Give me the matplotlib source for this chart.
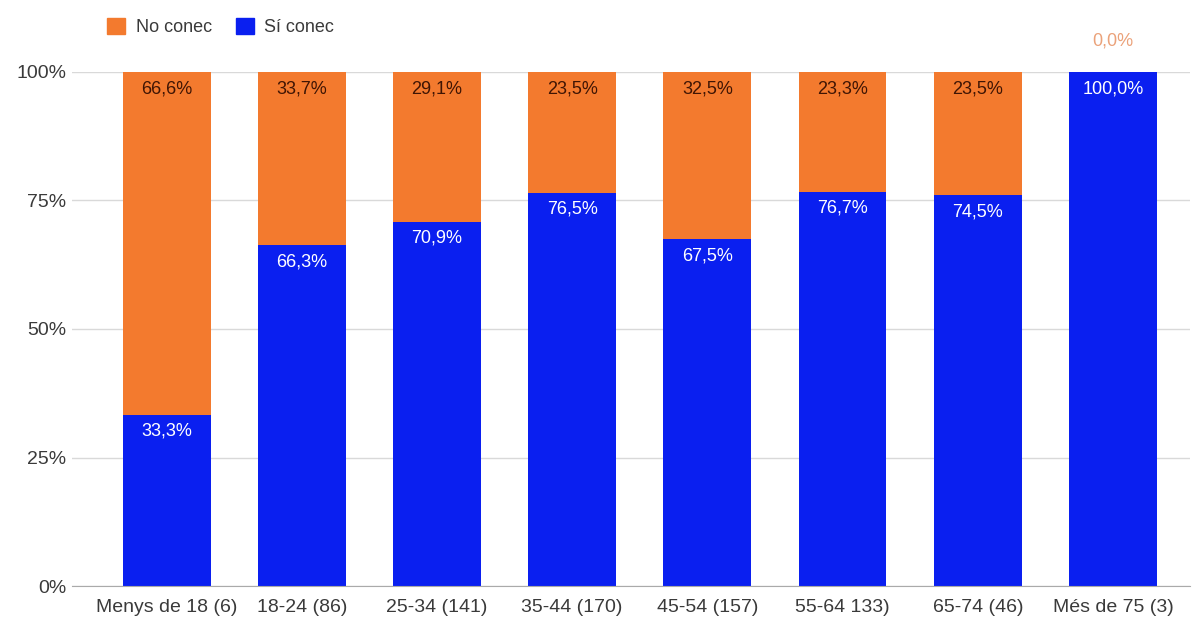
import matplotlib.pyplot as plt
from matplotlib.patches import Patch

plt.rcParams["font.family"] = ["Liberation Sans", "DejaVu Sans"]

# age groups and share (%) who know / do not know
groups = ["Menys de 18 (6)", "18-24 (86)", "25-34 (141)", "35-44 (170)",
          "45-54 (157)", "55-64 133)", "65-74 (46)", "Més de 75 (3)"]
si_conec = [33.3, 66.3, 70.9, 76.5, 67.5, 76.7, 74.5, 100.0]
no_conec = [66.6, 33.7, 29.1, 23.5, 32.5, 23.3, 23.5, 0.0]

ORANGE = "#f37a2e"
BLUE = "#0a1ff0"

fig = plt.figure(figsize=(11.99, 6.19), dpi=100)
ax = fig.add_axes([0.06, 0.0533, 0.9325, 0.8304])

x = list(range(len(groups)))
# 100% stacked: normalise each column
tot = [s + n for s, n in zip(si_conec, no_conec)]
si_h = [s / t * 100 for s, t in zip(si_conec, tot)]
no_h = [n / t * 100 for n, t in zip(no_conec, tot)]

ax.bar(x, si_h, width=0.65, color=BLUE, zorder=2)
ax.bar(x, no_h, width=0.65, bottom=si_h, color=ORANGE, zorder=2)

def fmt(v):
    return ("%.1f%%" % v).replace(".", ",")

for i in x:
    if no_conec[i] > 0:
        ax.annotate(fmt(no_conec[i]), (i, 100), xytext=(0, -12), textcoords="offset points",
                    ha="center", va="center", fontsize=13, color="#3f1504")
    else:
        ax.annotate(fmt(no_conec[i]), (i, 100), xytext=(0, 22), textcoords="offset points",
                    ha="center", va="center", fontsize=13, color="#eba27a")
    ax.annotate(fmt(si_conec[i]), (i, si_h[i]), xytext=(0, -12), textcoords="offset points",
                ha="center", va="center", fontsize=13, color="white")

ax.set_xlim(-0.70, 7.57)
ax.set_ylim(0, 100)
ax.set_yticks([0, 25, 50, 75, 100])
ax.set_yticklabels(["0%", "25%", "50%", "75%", "100%"])
ax.set_xticks(x)
ax.set_xticklabels(groups)
ax.tick_params(length=0, labelsize=14, colors="#3a3a3a")
ax.tick_params(axis="y", pad=4)
ax.tick_params(axis="x", pad=9)
ax.grid(axis="y", color="#d9d9d9", linewidth=1, zorder=0)
for s in ["top", "right", "left"]:
    ax.spines[s].set_visible(False)
ax.spines["bottom"].set_color("#aaaaaa")

handles = [Patch(color=ORANGE, label="No conec"), Patch(color=BLUE, label="Sí conec")]
leg = fig.legend(handles=handles, loc="upper left", bbox_to_anchor=(98 / 1199, 1 - 9 / 619), ncol=2,
                 frameon=False, fontsize=13, borderpad=0, handlelength=1.0, handleheight=1.0,
                 handletextpad=0.6, columnspacing=1.3)
for t in leg.get_texts():
    t.set_color("#3a3a3a")

fig.savefig("out.png", dpi=100)
